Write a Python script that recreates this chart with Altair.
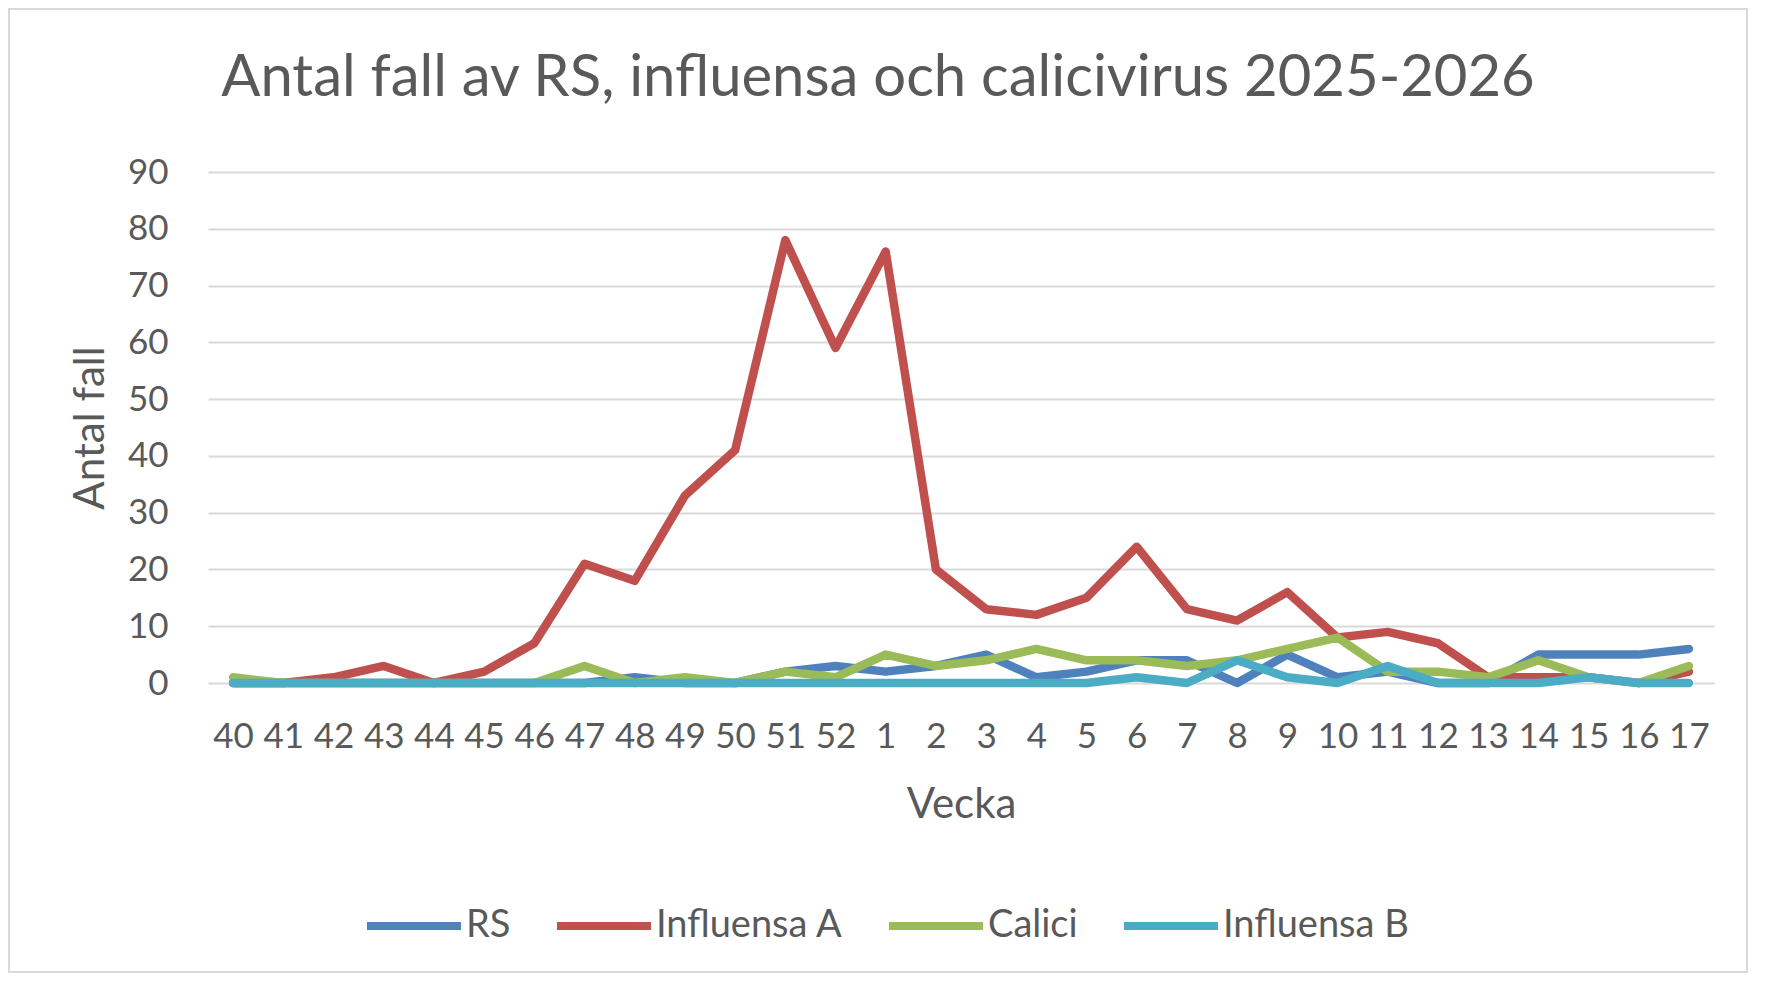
import altair as alt
import pandas as pd

# Veckor (säsong 2025-2026)
weeks = ["40", "41", "42", "43", "44", "45", "46", "47", "48", "49", "50", "51", "52",
         "1", "2", "3", "4", "5", "6", "7", "8", "9", "10", "11", "12", "13", "14",
         "15", "16", "17"]

rs = [0, 0, 0, 0, 0, 0, 0, 0, 1, 0, 0, 2, 3,
      2, 3, 5, 1, 2, 4, 4, 0, 5, 1, 2, 0, 0, 5, 5, 5, 6]
influensa_a = [0, 0, 1, 3, 0, 2, 7, 21, 18, 33, 41, 78, 59,
               76, 20, 13, 12, 15, 24, 13, 11, 16, 8, 9, 7, 1, 1, 1, 0, 2]
calici = [1, 0, 0, 0, 0, 0, 0, 3, 0, 1, 0, 2, 1,
          5, 3, 4, 6, 4, 4, 3, 4, 6, 8, 2, 2, 1, 4, 1, 0, 3]
influensa_b = [0, 0, 0, 0, 0, 0, 0, 0, 0, 0, 0, 0, 0,
               0, 0, 0, 0, 0, 1, 0, 4, 1, 0, 3, 0, 0, 0, 1, 0, 0]

series = ["RS", "Influensa A", "Calici", "Influensa B"]
colors = ["#4F81BD", "#C0504D", "#9BBB59", "#4BACC6"]

rows = []
for name, values in zip(series, [rs, influensa_a, calici, influensa_b]):
    for w, v in zip(weeks, values):
        rows.append({"Vecka": w, "Antal": v, "Serie": name})
df = pd.DataFrame(rows)

FONT = "Lato"
GREY = "#595959"

lines = alt.Chart(df).mark_line(
    strokeWidth=8.5, strokeCap="round", strokeJoin="round"
).encode(
    x=alt.X("Vecka:O", sort=weeks, title="Vecka",
            axis=alt.Axis(labelAngle=0, ticks=False, domain=False, grid=False,
                          labelPadding=36, titlePadding=30)),
    y=alt.Y("Antal:Q", title="Antal fall",
            scale=alt.Scale(domain=[0, 90], nice=False),
            axis=alt.Axis(values=list(range(0, 100, 10)), ticks=False, domain=False,
                          gridColor="#D9D9D9", gridWidth=2, labelPadding=40,
                          titlePadding=15)),
    color=alt.Color("Serie:N", title=None,
                    scale=alt.Scale(domain=series, range=colors),
                    legend=alt.Legend(orient="none", legendX=155, legendY=703,
                                      direction="horizontal", symbolType="stroke",
                                      symbolSize=8836, symbolStrokeWidth=8,
                                      labelOffset=1, columnPadding=30,
                                      labelLimit=0)),
)

# ram runt hela diagrammet
frame = alt.Chart(pd.DataFrame({"a": [0]})).mark_rect(
    fill=None, stroke="#D9D9D9", strokeWidth=2
).encode(
    x=alt.value(-199), x2=alt.value(1539), y=alt.value(-163), y2=alt.value(800)
)

chart = (frame + lines).properties(
    width=1506,
    height=511,
    padding={"left": 200, "top": 164, "right": 34, "bottom": 290},
    autosize=alt.AutoSizeParams(type="none"),
    title=alt.Title("Antal fall av RS, influensa och calicivirus 2025-2026",
                    fontSize=58, font=FONT, fontWeight="normal", color=GREY,
                    anchor="middle", frame="bounds", offset=0, dy=100),
).configure_axis(
    labelFont=FONT, titleFont=FONT, labelFontSize=35, titleFontSize=42,
    labelColor=GREY, titleColor=GREY, titleFontWeight="normal"
).configure_legend(
    labelFont=FONT, labelFontSize=38, labelColor=GREY
).configure_view(stroke=None)

chart.save("out.html", embed_options={"renderer": "svg", "actions": False})
